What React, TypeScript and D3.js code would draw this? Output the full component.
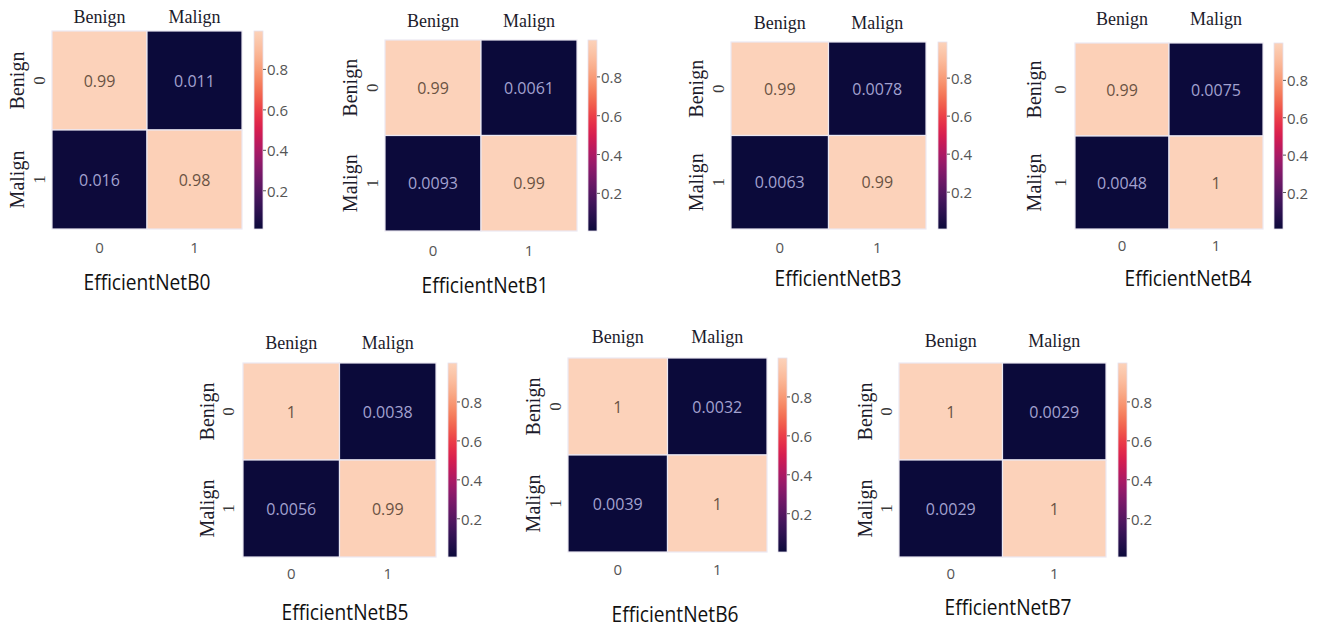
import React from 'react';
import * as d3 from 'd3';

const models = ['EfficientNetB0', 'EfficientNetB1', 'EfficientNetB3', 'EfficientNetB4', 'EfficientNetB5', 'EfficientNetB6', 'EfficientNetB7'];
const classNames = ['Benign', 'Malign'];
const tickLabels = ['0', '1'];
const cbTicks = [0.2, 0.4, 0.6, 0.8];

const matB0 = [[0.99, 0.011], [0.016, 0.98]];
const matB1 = [[0.99, 0.0061], [0.0093, 0.99]];
const matB3 = [[0.99, 0.0078], [0.0063, 0.99]];
const matB4 = [[0.99, 0.0075], [0.0048, 1]];
const matB5 = [[1, 0.0038], [0.0056, 0.99]];
const matB6 = [[1, 0.0032], [0.0039, 1]];
const matB7 = [[1, 0.0029], [0.0029, 1]];
const matrices = [matB0, matB1, matB3, matB4, matB5, matB6, matB7];

// panel placement (heatmap box, colorbar x, label positions)
const layout = [
  { left: 52, top: 31, right: 242, bottom: 229, cbX: 254, hdrY: 17, rowX: 17, digitX: 39, xTickY: 247, titleY: 282, titleX: 147 },
  { left: 385, top: 40, right: 577, bottom: 231, cbX: 588, hdrY: 21, rowX: 350, digitX: 372, xTickY: 250, titleY: 285, titleX: 485 },
  { left: 731, top: 42, right: 926, bottom: 229, cbX: 938, hdrY: 23, rowX: 696, digitX: 718, xTickY: 247, titleY: 278, titleX: 838 },
  { left: 1075, top: 43, right: 1263, bottom: 229, cbX: 1274, hdrY: 19, rowX: 1034, digitX: 1060, xTickY: 245, titleY: 278, titleX: 1188 },
  { left: 243, top: 363, right: 436, bottom: 557, cbX: 448, hdrY: 343, rowX: 207, digitX: 228, xTickY: 573, titleY: 612, titleX: 345 },
  { left: 568, top: 358, right: 767, bottom: 552, cbX: 778, hdrY: 337, rowX: 533, digitX: 555, xTickY: 569, titleY: 614, titleX: 675 },
  { left: 899, top: 363, right: 1106, bottom: 557, cbX: 1118, hdrY: 341, rowX: 865, digitX: 886, xTickY: 573, titleY: 607, titleX: 1008 },
];

// rocket-like colormap as seen in the picture
const rocket = d3.interpolateRgbBasis([
  '#0b0a3a', '#2a1150', '#48165e', '#6b1867', '#8e1a6c', '#b31a63',
  '#d91a4e', '#ea3446', '#f2604b', '#f6855f', '#f9a784', '#fbc0a2', '#fcd2ba',
]);

const serif = '"Liberation Serif", "Times New Roman", serif';
const sans = '"Open Sans", "Noto Sans", sans-serif';

function fmt(v: number) {
  return String(+v.toPrecision(2));
}

function Panel({ idx }: { idx: number }) {
  const L = layout[idx];
  const mat = matrices[idx];
  const flat = mat.flat();
  const vmin = d3.min(flat) as number;
  const vmax = d3.max(flat) as number;

  const x = d3.scaleBand<number>().domain([0, 1]).range([L.left, L.right]);
  const y = d3.scaleBand<number>().domain([0, 1]).range([L.top, L.bottom]);
  const color = d3.scaleSequential(rocket).domain([vmin, vmax]);
  const cy = d3.scaleLinear().domain([vmin, vmax]).range([L.bottom, L.top]);
  const gradId = `grad${idx}`;
  const cbW = 9;

  const cells = [];
  mat.forEach((row, r) =>
    row.forEach((v, c) => cells.push({ r, c, v }))
  );

  return (
    <g>
      <defs>
        <linearGradient id={gradId} x1="0" y1="1" x2="0" y2="0">
          {d3.range(0, 1.0001, 0.05).map(t => (
            <stop key={t} offset={t} stopColor={rocket(t)} />
          ))}
        </linearGradient>
      </defs>

      {cells.map(d => (
        <g key={`${d.r}-${d.c}`}>
          <rect
            x={x(d.c)}
            y={y(d.r)}
            width={x.bandwidth()}
            height={y.bandwidth()}
            fill={color(d.v)}
            stroke="#ece8f2"
            strokeWidth={1.2}
          />
          <text
            x={(x(d.c) as number) + x.bandwidth() / 2}
            y={(y(d.r) as number) + y.bandwidth() / 2}
            textAnchor="middle"
            dominantBaseline="central"
            fontFamily={sans}
            fontSize={16}
            fill={d.v > 0.5 ? '#6a5243' : '#a3a2d0'}
          >
            {fmt(d.v)}
          </text>
        </g>
      ))}

      {/* column headers */}
      {classNames.map((n, i) => (
        <text
          key={n}
          x={(x(i) as number) + x.bandwidth() / 2}
          y={L.hdrY}
          textAnchor="middle"
          dominantBaseline="central"
          fontFamily={serif}
          fontSize={18}
          fill="#1c1b2b"
        >
          {n}
        </text>
      ))}

      {/* row labels and rotated tick labels */}
      {classNames.map((n, i) => {
        const yc = (y(i) as number) + y.bandwidth() / 2;
        return (
          <g key={n}>
            <text
              transform={`translate(${L.rowX},${yc}) rotate(-90)`}
              textAnchor="middle"
              dominantBaseline="central"
              fontFamily={serif}
              fontSize={20}
              fill="#1c1b2b"
            >
              {n}
            </text>
            <text
              transform={`translate(${L.digitX},${yc}) rotate(-90)`}
              textAnchor="middle"
              dominantBaseline="central"
              fontFamily={serif}
              fontSize={17}
              fill="#3a3a3a"
            >
              {tickLabels[i]}
            </text>
          </g>
        );
      })}

      {/* x tick labels */}
      {tickLabels.map((t, i) => (
        <text
          key={t}
          x={(x(i) as number) + x.bandwidth() / 2}
          y={L.xTickY}
          textAnchor="middle"
          dominantBaseline="central"
          fontFamily={sans}
          fontSize={15}
          fill="#555"
        >
          {t}
        </text>
      ))}

      {/* colorbar */}
      <rect
        x={L.cbX}
        y={L.top}
        width={cbW}
        height={L.bottom - L.top}
        fill={`url(#${gradId})`}
        stroke="#e6e2ee"
        strokeWidth={0.8}
      />
      {cbTicks.map(t => (
        <g key={t}>
          <line x1={L.cbX + cbW} x2={L.cbX + cbW + 3} y1={cy(t)} y2={cy(t)} stroke="#555" strokeWidth={1} />
          <text
            x={L.cbX + cbW + 4}
            y={cy(t)}
            dominantBaseline="central"
            fontFamily={sans}
            fontSize={15}
            fill="#555"
          >
            {t.toFixed(1)}
          </text>
        </g>
      ))}

      {/* title */}
      <text
        x={L.titleX}
        y={L.titleY}
        textAnchor="middle"
        dominantBaseline="central"
        fontFamily={sans}
        fontSize={21}
        textLength={127}
        lengthAdjust="spacingAndGlyphs"
        fill="#111"
      >
        {models[idx]}
      </text>
    </g>
  );
}

export default function App() {
  return (
    <svg
      width={1318}
      height={628}
      style={{ position: 'absolute', left: 0, top: 0, background: '#fff' }}
    >
      {models.map((m, i) => (
        <Panel key={m} idx={i} />
      ))}
    </svg>
  );
}
